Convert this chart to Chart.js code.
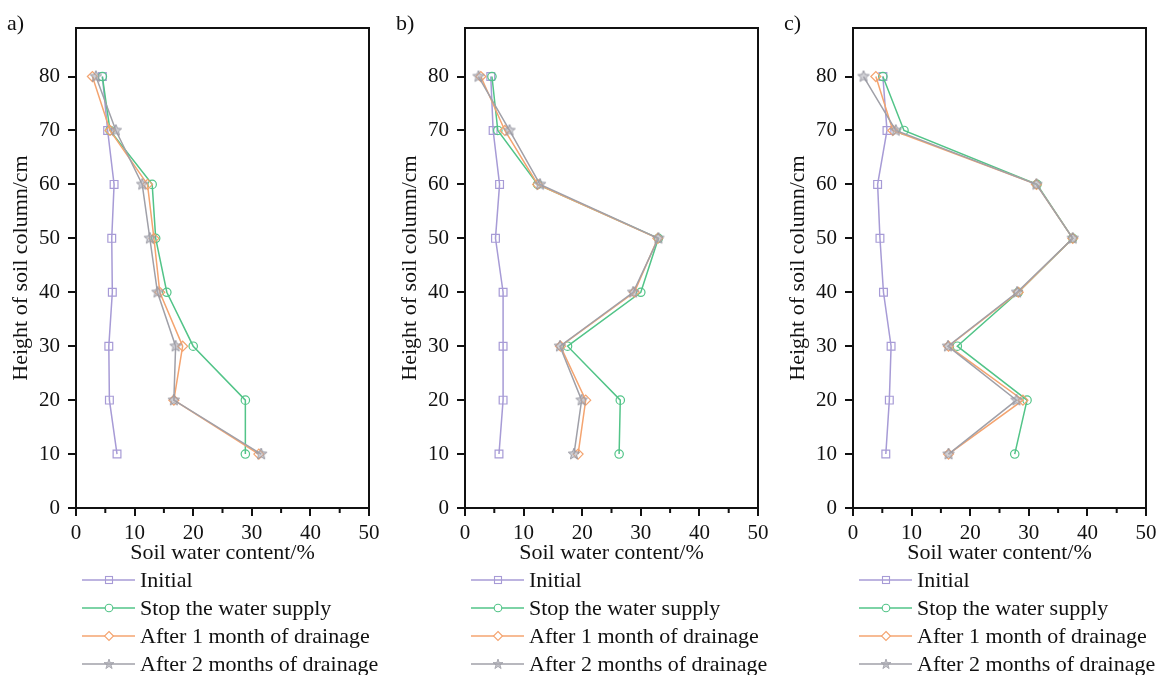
<!DOCTYPE html>
<html><head><meta charset="utf-8">
<script src="https://cdn.jsdelivr.net/npm/chart.js@4.4.1/dist/chart.umd.min.js"></script>
<style>
body{margin:0;background:#fff;}
#wrap{position:relative;width:1164px;height:675px;overflow:hidden;background:#fff;font-family:"Liberation Serif","Times New Roman",serif;color:#111;}
.panel{position:absolute;top:0;width:389px;height:675px;}
.panel canvas{position:absolute;left:0;top:0;}
.plabel{position:absolute;left:7px;top:9px;font-size:22px;line-height:28px;}
.legend{position:absolute;left:82px;top:566px;}
.legend .row{height:28px;display:flex;align-items:center;font-size:22px;white-space:nowrap;}
.legend svg{margin-right:5px;flex:none;}
</style></head><body><div id="wrap"></div>
<script>
// ---------- data ----------
const heights = [80, 70, 60, 50, 40, 30, 20, 10];
const seriesNames = ["Initial", "Stop the water supply", "After 1 month of drainage", "After 2 months of drainage"];
const panelLabels = ["a)", "b)", "c)"];
const xTitle = "Soil water content/%";
const yTitle = "Height of soil column/cm";
const xMinorTicks = [5, 15, 25, 35, 45];

const a_initial = [4.5, 5.4, 6.5, 6.1, 6.2, 5.6, 5.7, 7.0];
const a_stop    = [4.5, 5.8, 13.0, 13.6, 15.5, 20.0, 28.9, 28.9];
const a_month1  = [2.8, 5.8, 12.2, 13.3, 14.3, 18.2, 16.7, 31.2];
const a_month2  = [3.4, 6.8, 11.3, 12.6, 13.9, 17.0, 16.7, 31.6];

const b_initial = [4.4, 4.8, 5.9, 5.2, 6.5, 6.5, 6.5, 5.8];
const b_stop    = [4.6, 5.6, 12.4, 33.0, 30.0, 17.5, 26.5, 26.3];
const b_month1  = [2.7, 6.8, 12.4, 32.9, 28.9, 16.3, 20.6, 19.3];
const b_month2  = [2.3, 7.6, 12.8, 33.0, 28.7, 16.2, 19.9, 18.6];

const c_initial = [5.1, 5.8, 4.2, 4.6, 5.2, 6.5, 6.2, 5.6];
const c_stop    = [5.1, 8.7, 31.4, 37.5, 28.2, 17.8, 29.7, 27.6];
const c_month1  = [3.9, 6.8, 31.3, 37.5, 28.2, 16.3, 29.0, 16.3];
const c_month2  = [1.8, 7.3, 31.3, 37.5, 28.0, 16.2, 27.9, 16.3];

const panels = [
  [a_initial, a_stop, a_month1, a_month2],
  [b_initial, b_stop, b_month1, b_month2],
  [c_initial, c_stop, c_month1, c_month2]
];

// ---------- styles ----------
const colors = ["#a79bd6", "#52c488", "#f4a470", "#a0a0a8"];
const FONT = '"Liberation Serif","Times New Roman",serif';

function starImage(size, color, fill) {
  const c = document.createElement('canvas');
  c.width = size; c.height = size;
  const g = c.getContext('2d');
  const cx = size / 2, cy = size / 2, R = size / 2 - 1, r = R * 0.45;
  g.beginPath();
  for (let i = 0; i < 10; i++) {
    const ang = -Math.PI / 2 + i * Math.PI / 5;
    const rr = i % 2 === 0 ? R : r;
    const px = cx + rr * Math.cos(ang), py = cy + rr * Math.sin(ang);
    i === 0 ? g.moveTo(px, py) : g.lineTo(px, py);
  }
  g.closePath();
  g.fillStyle = fill; g.fill();
  g.strokeStyle = color; g.lineWidth = 1; g.stroke();
  return c;
}
const star = starImage(14, "#9898a2", "rgba(170,170,178,0.55)");
const pointStyles = ['rect', 'circle', 'rectRot', star];
const pointRadii = [5.5, 4.2, 5, 5];

const boxPlugin = {
  id: 'box',
  afterDraw(chart) {
    const { ctx, chartArea: { left, right, top, bottom } } = chart;
    const x = chart.scales.x;
    ctx.save();
    ctx.strokeStyle = '#111';
    ctx.lineWidth = 2;
    ctx.beginPath();
    ctx.moveTo(left, top); ctx.lineTo(right, top); ctx.lineTo(right, bottom);
    ctx.stroke();
    ctx.beginPath();
    for (const v of xMinorTicks) {
      const px = x.getPixelForValue(v);
      ctx.moveTo(px, bottom); ctx.lineTo(px, bottom + 5);
    }
    ctx.stroke();
    ctx.restore();
  }
};

function legendSymbol(i) {
  const col = colors[i];
  let shape = '';
  if (i === 0) shape = `<rect x="23.5" y="6.5" width="7" height="7" fill="none" stroke="${col}" stroke-width="1.1"/>`;
  if (i === 1) shape = `<circle cx="27" cy="10" r="3.8" fill="#fff" stroke="${col}" stroke-width="1.1"/>`;
  if (i === 2) shape = `<polygon points="27,5.5 31.5,10 27,14.5 22.5,10" fill="#fff" stroke="${col}" stroke-width="1.1"/>`;
  if (i === 3) shape = `<polygon points="27,5 28.2,8.6 32,8.6 29,10.9 30.1,14.6 27,12.4 23.9,14.6 25,10.9 22,8.6 25.8,8.6" fill="rgba(170,170,178,0.7)" stroke="${col}" stroke-width="0.8"/>`;
  return `<svg width="53" height="20"><line x1="0" y1="10" x2="53" y2="10" stroke="${col}" stroke-width="1.4"/>${shape}</svg>`;
}

const wrap = document.getElementById('wrap');
const panelLefts = [0, 389, 777];

panels.forEach((series, p) => {
  const div = document.createElement('div');
  div.className = 'panel';
  div.style.left = panelLefts[p] + 'px';
  const cv = document.createElement('canvas');
  cv.width = 389; cv.height = 568;
  div.appendChild(cv);
  const lab = document.createElement('div');
  lab.className = 'plabel';
  lab.textContent = panelLabels[p];
  div.appendChild(lab);
  const leg = document.createElement('div');
  leg.className = 'legend';
  leg.innerHTML = seriesNames.map((n, i) => `<div class="row">${legendSymbol(i)}<span>${n}</span></div>`).join('');
  div.appendChild(leg);
  wrap.appendChild(div);

  const datasets = series.map((vals, i) => ({
    label: seriesNames[i],
    data: heights.map((h, k) => ({ x: vals[k], y: h })),
    borderColor: colors[i],
    backgroundColor: 'rgba(255,255,255,0)',
    borderWidth: 1.5,
    pointStyle: pointStyles[i],
    pointRadius: pointRadii[i],
    pointBorderWidth: 1.2,
    pointBorderColor: colors[i],
    pointBackgroundColor: 'rgba(255,255,255,0)',
    tension: 0,
    order: 3 - i
  }));

  new Chart(cv, {
    type: 'line',
    data: { datasets },
    options: {
      responsive: false,
      animation: false,
      devicePixelRatio: 1,
      layout: { padding: { top: 28, right: 20, left: 0, bottom: 0 } },
      plugins: { legend: { display: false }, tooltip: { enabled: false } },
      scales: {
        x: {
          type: 'linear', min: 0, max: 50,
          ticks: { stepSize: 10, color: '#111', font: { family: FONT, size: 21 }, padding: 5, maxRotation: 0 },
          grid: { drawOnChartArea: false, drawTicks: true, tickLength: 8, color: '#111', lineWidth: 2 },
          border: { display: true, color: '#111', width: 2 },
          title: { display: true, text: xTitle, color: '#111', font: { family: FONT, size: 22 }, padding: { top: 0, bottom: 2 } },
          afterFit: s => { s.height = 60; }
        },
        y: {
          type: 'linear', min: 0, max: 89,
          ticks: { stepSize: 10, includeBounds: false, color: '#111', font: { family: FONT, size: 21 }, padding: 8 },
          grid: { drawOnChartArea: false, drawTicks: true, tickLength: 8, color: '#111', lineWidth: 2 },
          border: { display: true, color: '#111', width: 2 },
          title: { display: true, text: yTitle, color: '#111', font: { family: FONT, size: 22 }, padding: { top: 8, bottom: 0 } },
          afterFit: s => { s.width = 76; }
        }
      }
    },
    plugins: [boxPlugin]
  });
});
</script>
</body></html>
